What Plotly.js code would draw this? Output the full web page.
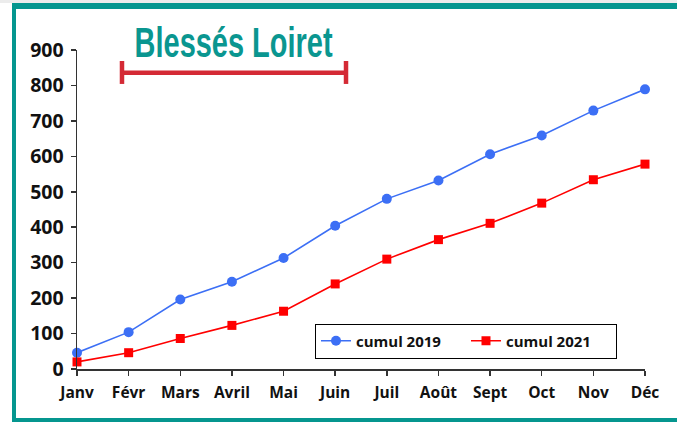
<!DOCTYPE html>
<html>
<head>
<meta charset="utf-8">
<script src="https://cdn.plot.ly/plotly-3.0.1.min.js"></script>
<style>
  html, body { margin: 0; padding: 0; background: #ffffff; }
  #wrap { position: relative; width: 677px; height: 422px; overflow: hidden; }
  #chart { position: absolute; left: 0; top: 0; width: 677px; height: 422px; }
  .frame { position: absolute; background: #05968f; pointer-events: none; z-index: 5; }
  .topgrey { position: absolute; left: 0; top: 0; width: 677px; height: 3px; background: #ececec; z-index: 5; }
</style>
</head>
<body>
<div id="wrap">
  <div id="chart"></div>
  <div class="topgrey"></div>
  <div class="frame" style="left:12px; top:3px; width:665px; height:6px;"></div>
  <div class="frame" style="left:12px; top:3px; width:4px; height:419px;"></div>
  <div class="frame" style="left:12px; top:418px; width:665px; height:4px;"></div>
</div>
<script>
const months = ['Janv','Févr','Mars','Avril','Mai','Juin','Juil','Août','Sept','Oct','Nov','Déc'];
const cumul2019 = [46,104,196,246,313,404,480,532,606,659,729,789];
const cumul2021 = [20,46,86,123,163,240,310,365,411,468,534,578];
const seriesNames = ['cumul 2019','cumul 2021'];
const titleText = 'Blessés Loiret';

const traces = [
  {
    x: months, y: cumul2019, name: seriesNames[0], type: 'scatter', mode: 'lines+markers',
    line: {color: '#3c6ff5', width: 1.6},
    marker: {color: '#3c6ff5', size: 10, symbol: 'circle'},
    cliponaxis: false
  },
  {
    x: months, y: cumul2021, name: seriesNames[1], type: 'scatter', mode: 'lines+markers',
    line: {color: '#ff0000', width: 1.6},
    marker: {color: '#ff0000', size: 9, symbol: 'square'},
    cliponaxis: false
  }
];

const axisFont = {family: 'Open Sans, sans-serif', size: 15.5, color: '#111111', weight: 'bold'};

const layout = {
  width: 677, height: 422,
  margin: {l: 77, r: 32, t: 50, b: 52.5, pad: 0, autoexpand: false},
  paper_bgcolor: 'rgba(0,0,0,0)',
  plot_bgcolor: 'rgba(0,0,0,0)',
  showlegend: true,
  xaxis: {
    type: 'category', range: [0, 11], showgrid: false, zeroline: false,
    showline: true, linecolor: '#333333', linewidth: 1.5,
    ticks: 'outside', ticklen: 5, tickwidth: 1.5, tickcolor: '#333333',
    tickfont: axisFont, ticklabelstandoff: 4, automargin: false
  },
  yaxis: {
    range: [0, 900], dtick: 100, showgrid: false, zeroline: false,
    showline: true, linecolor: '#333333', linewidth: 1.5,
    ticks: 'outside', ticklen: 5, tickwidth: 1.5, tickcolor: '#333333',
    tickfont: {family: 'Open Sans, sans-serif', size: 19.5, color: '#111111', weight: 'bold'},
    ticklabelstandoff: 3, automargin: false
  },
  legend: {
    orientation: 'h', x: 0.419, y: 0.1424, xanchor: 'left', yanchor: 'top',
    bgcolor: '#ffffff', bordercolor: '#000000', borderwidth: 1,
    font: {family: 'Open Sans, sans-serif', size: 15, color: '#111111', weight: 'bold'},
    itemwidth: 30, entrywidth: 105, entrywidthmode: 'pixels'
  },
  annotations: [{
    text: titleText, xref: 'paper', yref: 'paper', x: 0.2764, y: 1.025,
    xanchor: 'center', yanchor: 'middle', showarrow: false,
    font: {family: 'Liberation Sans, sans-serif', size: 42, color: '#0a9690', weight: 'bold'}
  }],
  shapes: [
    {type: 'line', xref: 'paper', yref: 'paper', x0: 0.0792, x1: 0.4736, y0: 0.929, y1: 0.929,
     line: {color: '#d42a35', width: 4.5}},
    {type: 'line', xref: 'paper', yref: 'paper', x0: 0.0792, x1: 0.0792, y0: 0.8936, y1: 0.9656,
     line: {color: '#d42a35', width: 4.5}},
    {type: 'line', xref: 'paper', yref: 'paper', x0: 0.4736, x1: 0.4736, y0: 0.8936, y1: 0.9656,
     line: {color: '#d42a35', width: 4.5}}
  ]
};

Plotly.newPlot('chart', traces, layout, {displayModeBar: false, staticPlot: true}).then(function (gd) {
  // condense the title horizontally to mimic the narrow display face
  const t = gd.querySelector('.annotation-text');
  if (t) {
    const bb = t.getBBox();
    const cx = bb.x + bb.width / 2;
    const k = 198 / bb.width;
    const old = t.getAttribute('transform') || '';
    t.setAttribute('transform', 'translate(' + cx + ',0) scale(' + k + ',1) translate(' + (-cx) + ',0) ' + old);
  }
});
</script>
</body>
</html>
